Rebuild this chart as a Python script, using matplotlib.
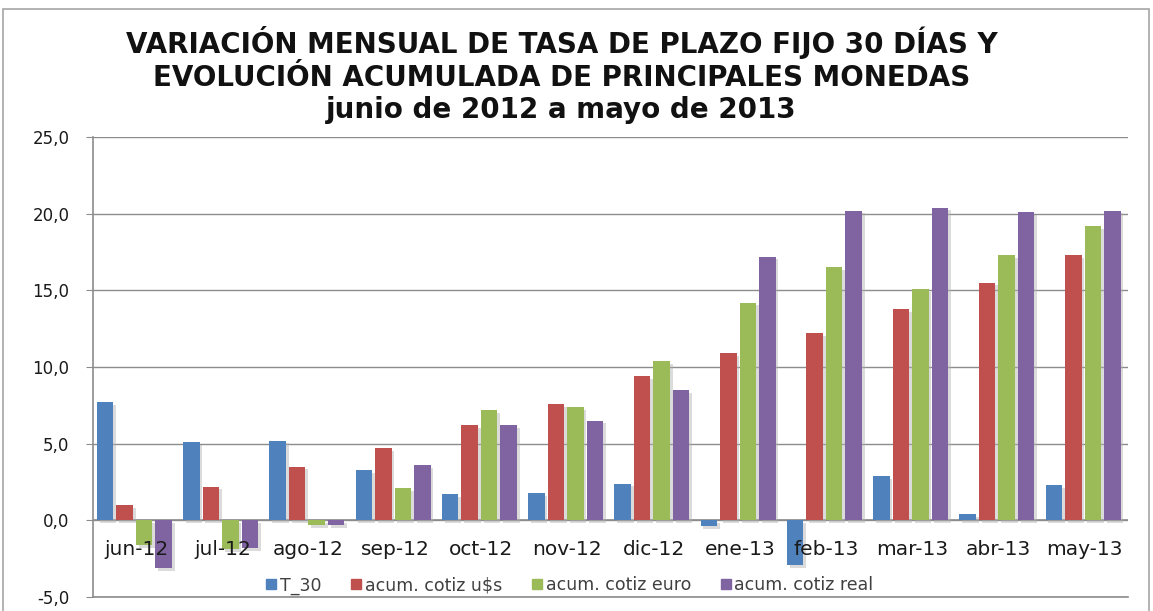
import matplotlib
matplotlib.use("Agg")
import matplotlib.pyplot as plt
import matplotlib.patheffects as pe
import numpy as np
from matplotlib.lines import Line2D
from matplotlib.patches import Rectangle

months = ["jun-12", "jul-12", "ago-12", "sep-12", "oct-12", "nov-12",
          "dic-12", "ene-13", "feb-13", "mar-13", "abr-13", "may-13"]
t30 = [7.7, 5.1, 5.2, 3.3, 1.7, 1.8, 2.4, -0.4, -2.9, 2.9, 0.4, 2.3]
usd = [1.0, 2.2, 3.5, 4.7, 6.2, 7.6, 9.4, 10.9, 12.2, 13.8, 15.5, 17.3]
euro = [-1.6, -1.9, -0.3, 2.1, 7.2, 7.4, 10.4, 14.2, 16.5, 15.1, 17.3, 19.2]
real = [-3.1, -1.8, -0.3, 3.6, 6.2, 6.5, 8.5, 17.2, 20.2, 20.4, 20.1, 20.2]
names = ["T_30", "acum. cotiz u$s", "acum. cotiz euro", "acum. cotiz real"]
colors = ["#4f81bd", "#c0504d", "#9bbb59", "#8064a2"]
yticks = [-5, 0, 5, 10, 15, 20, 25]

GRID = "#8c8c8c"
plt.rcParams["font.family"] = "DejaVu Sans"

fig = plt.figure(figsize=(11.53, 6.11), dpi=100)
ax = fig.add_axes([93 / 1153, 1 - 597 / 611, 1035 / 1153, 460 / 611])

# outer chart border
fig.add_artist(Rectangle((3 / 1153, -0.01), 1146 / 1153, 1 - 9 / 611 + 0.01,
                         transform=fig.transFigure, fill=False,
                         edgecolor="#a6a6a6", lw=1.2))

x = np.arange(len(months))
pitch, width = 0.226, 0.19
shadow = [pe.SimplePatchShadow(offset=(2, -2), shadow_rgbFace="#b0b0b0",
                               alpha=0.45), pe.Normal()]
for k, (vals, c) in enumerate(zip([t30, usd, euro, real], colors)):
    ax.bar(x + (k - 1.5) * pitch - 0.02, vals, width=width, color=c,
           edgecolor="none", zorder=3, path_effects=shadow, label=names[k])

ax.set_ylim(-5, 25)
ax.set_xlim(-0.5, len(months) - 0.5)
ax.set_yticks(yticks)
ax.set_yticklabels([f"{v:.1f}".replace(".", ",") for v in yticks],
                   fontsize=12, color="#1a1a1a")
ax.tick_params(axis="y", length=5, color=GRID, pad=12)
ax.set_xticks([])
ax.yaxis.grid(True, color=GRID, lw=1.0, zorder=0)
ax.set_axisbelow(True)
ax.axhline(0, color=GRID, lw=1.2, zorder=2)
for s in ["top", "right"]:
    ax.spines[s].set_visible(False)
for s in ["left", "bottom"]:
    ax.spines[s].set_color(GRID)
    ax.spines[s].set_linewidth(1.2)

for xi, m in zip(x, months):
    ax.text(xi, -1.9, m, ha="center", va="center", fontsize=14.5,
            color="#1a1a1a", zorder=5)

handles = [Line2D([0], [0], marker="s", lw=0, color=c, markersize=6.5)
           for c in colors]
ax.legend(handles, names, loc="center", bbox_to_anchor=(0.459, 0.025),
          ncol=4, frameon=False, fontsize=12.5, handletextpad=0.0,
          columnspacing=1.5, labelcolor="#404040", handlelength=1.0)

fig.text(0.487, 0.957,
         "VARIACIÓN MENSUAL DE TASA DE PLAZO FIJO 30 DÍAS Y\n"
         "EVOLUCIÓN ACUMULADA DE PRINCIPALES MONEDAS\n"
         "junio de 2012 a mayo de 2013",
         ha="center", va="top", fontsize=20, fontweight="bold",
         linespacing=1.2, color="#111111")

fig.savefig("out.png", dpi=100)
